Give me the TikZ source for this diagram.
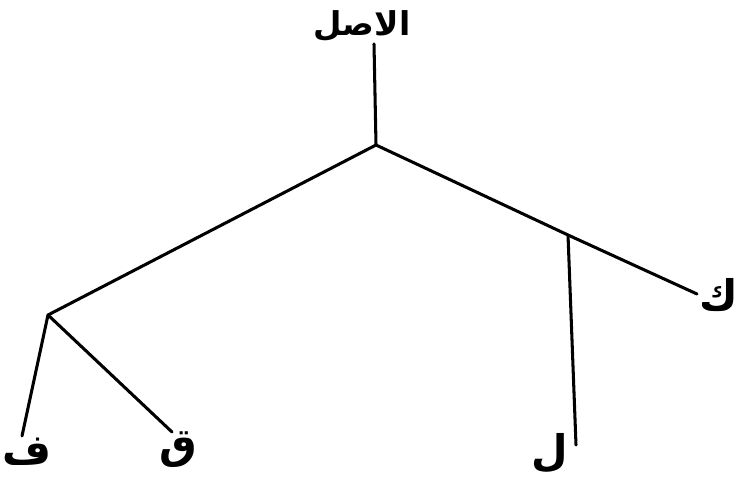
\documentclass[tikz,border=0pt]{standalone}
\usepackage{fontspec}
\newfontfamily\arabicfont[Script=Arabic]{DejaVu Sans}
\TeXXeTstate=1
\begin{document}
\begin{tikzpicture}[
  x=0.03cm, y=-0.03cm,
  branch/.style={line width=2.6pt, line cap=round},
  leaf/.style={font=\arabicfont\bfseries\fontsize{36}{40}\selectfont, inner sep=0pt}
]
\useasboundingbox (0,0) rectangle (738,482);

% labels
\node[leaf, font=\arabicfont\bfseries\fontsize{28}{32}\selectfont] (root) at (362,26) {\beginR الاصل\endR};
\node[leaf] (fa)   at (27,452)  {\beginR ف\endR};
\node[leaf] (qaf)  at (178,450) {\beginR ق\endR};
\node[leaf] (lam)  at (550,453) {\beginR ل\endR};
\node[leaf] (kaf)  at (719,295) {\beginR ك\endR};

% junctions and line ends
\coordinate (top) at (374,44);
\coordinate (j0)  at (376,145);
\coordinate (jl)  at (48,315);
\coordinate (jr)  at (568,235);
\coordinate (ek)  at (697,294);
\coordinate (ef)  at (22,436);
\coordinate (eq)  at (172,432);
\coordinate (el)  at (576,445);

\draw[branch] (top) -- (j0);
\draw[branch] (j0) -- (jl);
\draw[branch] (j0) -- (jr) -- (ek);
\draw[branch] (jr) -- (el);
\draw[branch] (jl) -- (ef);
\draw[branch] (jl) -- (eq);

\end{tikzpicture}
\end{document}
